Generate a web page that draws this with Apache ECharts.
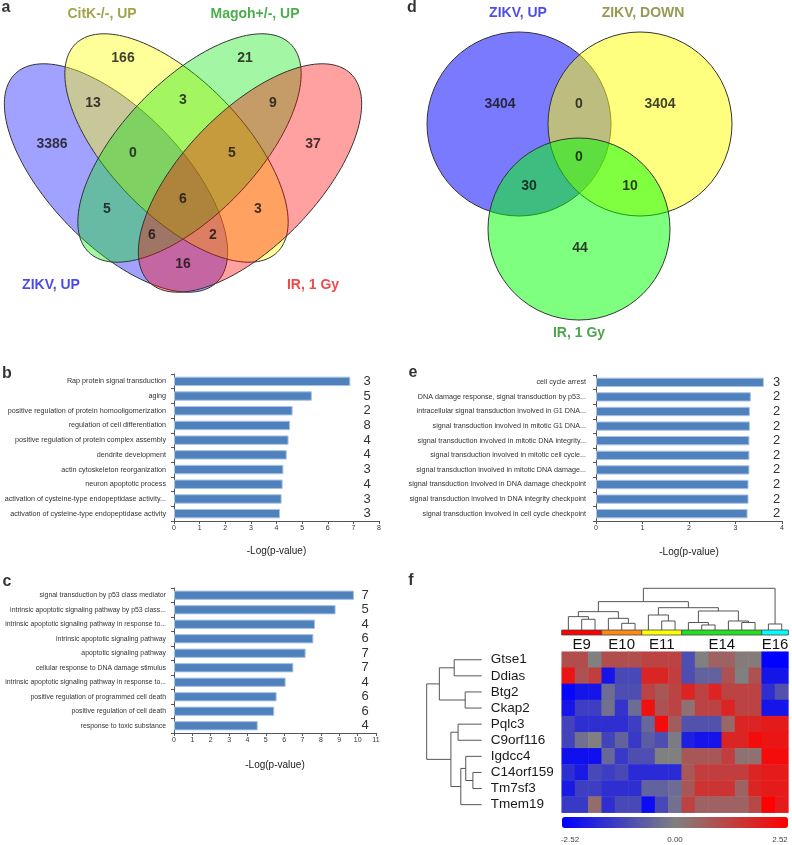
<!DOCTYPE html>
<html><head><meta charset="utf-8">
<script src="https://cdn.jsdelivr.net/npm/echarts@6/dist/echarts.min.js"></script>
<style>html,body{margin:0;padding:0;background:#fff}#c{width:792px;height:845px}</style>
</head><body><div id="c"></div><script>
// ---------------- DATA ----------------
const vennASets = ['ZIKV, UP', 'CitK-/-, UP', 'Magoh+/-, UP', 'IR, 1 Gy'];
const vennARegions = ['A', 'B', 'C', 'D', 'AB', 'BC', 'CD', 'ABC', 'BCD', 'ABCD', 'AC', 'BD', 'ACD', 'ABD', 'AD'];
const vennACounts = [3386, 166, 21, 37, 13, 3, 9, 0, 5, 6, 5, 3, 6, 2, 16];

const vennDSets = ['ZIKV, UP', 'ZIKV, DOWN', 'IR, 1 Gy'];
const vennDRegions = ['A', 'AB', 'B', 'ABC', 'AC', 'BC', 'C'];
const vennDCounts = [3404, 0, 3404, 0, 30, 10, 44];

const bTerms = ['Rap protein signal transduction', 'aging', 'positive regulation of protein homooligomerization',
  'regulation of cell differentiation', 'positive regulation of protein complex assembly', 'dendrite development',
  'actin cytoskeleton reorganization', 'neuron apoptotic process',
  'activation of cysteine-type endopeptidase activity...', 'activation of cysteine-type endopeptidase activity'];
const bValues = [6.88, 5.38, 4.63, 4.53, 4.47, 4.40, 4.27, 4.24, 4.20, 4.14];
const bCounts = ['3', '5', '2', '8', '4', '4', '3', '4', '3', '3'];

const cTerms = ['signal transduction by p53 class mediator', 'intrinsic apoptotic signaling pathway by p53 class...',
  'intrinsic apoptotic signaling pathway in response to...', 'intrinsic apoptotic signaling pathway',
  'apoptotic signaling pathway', 'cellular response to DNA damage stimulus',
  'intrinsic apoptotic signaling pathway in response to...', 'positive regulation of programmed cell death',
  'positive regulation of cell death', 'response to toxic substance'];
const cValues = [9.80, 8.80, 7.68, 7.59, 7.17, 6.50, 6.08, 5.59, 5.46, 4.56];
const cCounts = ['7', '5', '4', '6', '7', '7', '4', '6', '6', '4'];

const eTerms = ['cell cycle arrest', 'DNA damage response, signal transduction by p53...',
  'intracellular signal transduction involved in G1 DNA...', 'signal transduction involved in mitotic G1 DNA...',
  'signal transduction involved in mitotic DNA integrity...', 'signal transduction involved in mitotic cell cycle...',
  'signal transduction involved in mitotic DNA damage...', 'signal transduction involved in DNA damage checkpoint',
  'signal transduction involved in DNA integrity checkpoint', 'signal transduction involved in cell cycle checkpoint'];
const eValues = [3.61, 3.33, 3.31, 3.31, 3.30, 3.30, 3.30, 3.28, 3.28, 3.26];
const eCounts = ['3', '2', '2', '2', '2', '2', '2', '2', '2', '2'];

const heatGroups = ['E9', 'E10', 'E11', 'E14', 'E16'];
const heatGroupSizes = [3, 3, 3, 6, 2];
const heatRows = ['Gtse1', 'Ddias', 'Btg2', 'Ckap2', 'Pqlc3', 'C9orf116', 'Igdcc4', 'C14orf159', 'Tm7sf3', 'Tmem19'];
const heatValues = [
  [1.0, 1.0, 0.0, 1.0, 1.0, 1.0, 1.2, 1.2, 1.2, -1.0, 0.0, 0.6, 0.6, 0.1, 0.1, -2.5, -2.5],
  [2.1, 0.9, 1.3, -2.1, -1.1, -1.1, 1.8, 1.8, 1.3, -1.0, -0.6, -0.6, 0.9, 0.0, 0.9, -2.1, -2.1],
  [-2.4, -2.1, -2.1, -0.4, -1.0, -1.0, 1.2, 0.8, 1.2, 1.8, 1.2, 1.8, 1.2, 1.2, 1.2, -1.6, -0.9],
  [-2.1, -1.3, -1.3, -0.3, -1.5, -0.4, 2.2, 0.9, 1.2, 0.3, 1.2, 1.2, 1.8, 1.2, 1.2, -2.1, -2.1],
  [-1.2, -1.6, -1.6, -1.6, -1.6, -1.3, -0.5, 2.3, 0.7, -0.9, -0.9, -0.9, 0.5, 1.8, 1.8, 2.0, 2.0],
  [-1.2, -0.3, 0.0, -1.2, -0.6, -1.4, -0.7, -1.0, -0.1, -1.9, -2.1, -2.1, 1.8, 1.8, 2.3, 2.1, 2.1],
  [-2.2, -2.2, -2.2, -0.5, -1.4, -1.0, -1.0, 0.0, 0.0, 0.8, 0.8, 0.8, 1.3, 0.3, 0.3, 2.3, 2.3],
  [-1.6, -2.0, -1.1, -1.3, -1.1, -1.7, -1.7, -1.7, -1.7, 0.8, 1.3, 1.3, 1.3, 1.3, 1.8, 2.0, 2.0],
  [-2.0, -1.3, -1.3, -1.6, -1.6, -1.6, -0.6, -0.6, -0.4, 0.8, 1.5, 1.5, 1.5, 0.6, 1.8, 2.0, 2.0],
  [-1.4, -1.4, 0.4, -1.6, -1.1, -1.1, -2.3, -1.1, -0.3, 1.2, 0.6, 0.6, 0.6, 0.6, 1.1, 2.5, 2.0]
];
const heatMin = -2.52, heatMax = 2.52;
// hierarchical merges: [childA, childB, height]; new node ids continue after leaves
const rowMerges = [[0, 1, 0.50], [2, 3, 0.30], [10, 11, 0.77], [4, 5, 0.43], [7, 8, 0.16], [6, 14, 0.29],
  [15, 9, 0.38], [13, 16, 0.56], [12, 17, 1.0]];
const colMerges = [[1, 2, 0.257], [0, 17, 0.32], [4, 5, 0.16], [3, 19, 0.28], [18, 20, 0.44], [7, 8, 0.216],
  [6, 22, 0.36], [10, 11, 0.12], [9, 24, 0.18], [13, 14, 0.18], [12, 26, 0.216], [25, 27, 0.456],
  [23, 28, 0.535], [21, 29, 0.68], [15, 16, 0.144], [30, 31, 1.0]];

// ---------------- LAYOUT (positions & styles) ----------------
const FONT = 'Liberation Sans, Arial, Helvetica, sans-serif';
const vennAShapes = [[116, 178, 145, 67, 46], [176.5, 148, 145, 67, 46], [189.5, 148, 145, 67, -46], [250, 178, 145, 67, -46]];
const vennAFill = ['rgba(0,0,255,0.37)', 'rgba(255,255,0,0.40)', 'rgba(0,230,0,0.36)', 'rgba(255,0,0,0.37)'];
const vennALabelPos = [[52, 144], [123, 58], [245, 58], [313, 144], [93, 103], [183, 100], [273, 103], [133, 153],
  [232, 153], [183, 199], [107, 209], [258, 209], [152, 235], [213, 235], [183, 264]];
const vennASetPos = [[51, 285], [102, 14], [255, 14], [313, 285]];
const vennASetColor = ['#1a1ae6', '#8c8c1e', '#1e9a1e', '#ee1c1c'];

const vennDShapes = [[519, 124, 92], [640, 124, 92], [579, 229, 91]];
const vennDFill = ['rgba(0,0,255,0.52)', 'rgba(255,255,0,0.5)', 'rgba(0,255,0,0.5)'];
const vennDLabelPos = [[500, 104], [579, 104], [660, 104], [579, 157], [529, 186], [630, 186], [580, 248]];
const vennDSetPos = [[518, 13], [643, 13], [579, 333]];
const vennDSetColor = ['#1f1fe0', '#80802a', '#1f8f1f'];
const groupColors = ['#ff0000', '#ff8a10', '#ffff00', '#22e022', '#00ffff'];

// ---------------- derived ----------------
function treeSegments(merges, nLeaves) {
  const pos = [], h = [];
  for (let i = 0; i < nLeaves; i++) { pos.push(i); h.push(0); }
  const segs = [];
  merges.forEach(m => {
    const [a, b, ht] = m;
    segs.push([pos[a], h[a], pos[b], h[b], ht]);
    pos.push((pos[a] + pos[b]) / 2); h.push(ht);
  });
  return segs;
}
const nCols = heatValues[0].length;
const heatCols = [];
heatGroups.forEach((g, gi) => { for (let k = 0; k < heatGroupSizes[gi]; k++) heatCols.push(g + '_' + (k + 1)); });
const heatData = [];
heatValues.forEach((row, r) => row.forEach((v, c) => heatData.push([c, r, v])));
const groupSpans = [];
let acc = 0;
heatGroupSizes.forEach((s, gi) => { groupSpans.push([acc, acc + s - 1, gi]); acc += s; });

const chart = echarts.init(document.getElementById('c'), null, { renderer: 'canvas' });

function ellipseItem(fills) {
  return function (params, api) {
    const cx = api.value(0), cy = api.value(1), a = api.value(2), b = api.value(3);
    const ang = api.value(4) * Math.PI / 180;
    const pts = [];
    for (let k = 0; k < 160; k++) {
      const t = k / 160 * 2 * Math.PI;
      const dx = a * Math.cos(t) * Math.cos(ang) - b * Math.sin(t) * Math.sin(ang);
      const dy = a * Math.cos(t) * Math.sin(ang) + b * Math.sin(t) * Math.cos(ang);
      pts.push(api.coord([cx + dx, cy + dy]));
    }
    return { type: 'polygon', shape: { points: pts }, style: { fill: fills[params.dataIndex], stroke: '#333', lineWidth: 1 } };
  };
}
function circleItem(params, api) {
  const c = api.coord([api.value(0), api.value(1)]);
  const r = api.size([api.value(2), 0])[0];
  return { type: 'circle', shape: { cx: c[0], cy: c[1], r: r }, style: { fill: vennDFill[params.dataIndex], stroke: '#333', lineWidth: 1 } };
}

function catAxis(grid, data, margin, fs) {
  return { type: 'category', gridIndex: grid, data: data, inverse: true,
    axisLine: { show: true, lineStyle: { color: '#555', width: 1 } },
    axisTick: { show: true, length: 3, lineStyle: { color: '#555' } },
    axisLabel: { interval: 0, fontSize: fs || 7.2, color: '#333', margin: margin, fontFamily: FONT } };
}
function countAxis(grid, data, offset) {
  return { type: 'category', gridIndex: grid, data: data, inverse: true, position: 'right', offset: offset,
    axisLine: { show: false }, axisTick: { show: false },
    axisLabel: { interval: 0, fontSize: 13, color: '#333', margin: 0, align: 'left', fontFamily: FONT } };
}
function valAxis(grid, max) {
  return { type: 'value', gridIndex: grid, min: 0, max: max, interval: 1,
    name: '-Log(p-value)', nameLocation: 'middle', nameGap: 25,
    nameTextStyle: { fontSize: 10, color: '#222', fontFamily: FONT },
    axisLine: { show: true, lineStyle: { color: '#555', width: 1 } },
    axisTick: { show: true, length: 3, lineStyle: { color: '#555' } },
    splitLine: { show: false },
    axisLabel: { fontSize: 7, color: '#333', margin: 4, fontFamily: FONT } };
}
const hiddenVal = (grid, min, max, inverse) => ({ type: 'value', gridIndex: grid, min: min, max: max, inverse: !!inverse, show: false });

function setLabelSeries(names, pos, colors) {
  return { type: 'scatter', xAxisIndex: 0, yAxisIndex: 0, symbolSize: 0, silent: true, z: 5,
    data: names.map((n, i) => ({ value: [pos[i][0], pos[i][1]], name: n,
      label: { show: true, formatter: n, color: colors[i], fontSize: 14, fontWeight: 'bold', fontFamily: FONT,
        position: 'inside', align: 'center', verticalAlign: 'middle' } })) };
}
function countLabelSeries(counts, pos) {
  return { type: 'scatter', xAxisIndex: 0, yAxisIndex: 0, symbolSize: 0, silent: true, z: 5,
    data: counts.map((v, i) => [pos[i][0], pos[i][1], v]),
    label: { show: true, formatter: p => String(p.value[2]), color: '#111', fontSize: 14, fontWeight: 'bold',
      fontFamily: FONT, position: 'inside', align: 'center', verticalAlign: 'middle' } };
}

const barStyle = { color: '#4f81bd', borderColor: '#a9c3e6', borderWidth: 1 };
const letters = [['a', 6, 8], ['b', 7, 374], ['c', 7, 582], ['d', 412, 8], ['e', 413, 373], ['f', 411, 581]];
const G = (o) => Object.assign({ outerBoundsMode: 'none', containLabel: false }, o);

const option = {
  animation: false,
  textStyle: { fontFamily: FONT },
  grid: [
    G({ left: 0, top: 0, width: 792, height: 845 }),
    G({ left: 174, top: 374, width: 205, height: 147 }),
    G({ left: 174, top: 588, width: 202, height: 145 }),
    G({ left: 596, top: 375, width: 186, height: 146 }),
    G({ left: 561.7, top: 651.7, width: 226.7, height: 161 }),
    G({ left: 561.7, top: 588.3, width: 226.7, height: 41.7 }),
    G({ left: 426.7, top: 651.7, width: 55, height: 161 }),
    G({ left: 570, top: 829, width: 210, height: 1 })
  ],
  xAxis: [
    hiddenVal(0, 0, 792),
    valAxis(1, 8),
    Object.assign(valAxis(2, 11), { nameGap: 27 }),
    Object.assign(valAxis(3, 4), { nameGap: 26 }),
    { type: 'category', gridIndex: 4, data: heatCols, show: false },
    hiddenVal(5, -0.5, nCols - 0.5),
    hiddenVal(6, 0, 1, true),
    { type: 'value', gridIndex: 7, min: heatMin, max: heatMax, interval: heatMax,
      axisLine: { show: false }, axisTick: { show: false }, splitLine: { show: false },
      axisLabel: { fontSize: 8, color: '#444', margin: 6, formatter: v => v.toFixed(2), fontFamily: FONT } }
  ],
  yAxis: [
    hiddenVal(0, 0, 845, true),
    catAxis(1, bTerms, 8),
    countAxis(1, bCounts, -15.6),
    catAxis(2, cTerms, 8, 6.9),
    countAxis(2, cCounts, -14.6),
    catAxis(3, eTerms, 10),
    countAxis(3, eCounts, -9),
    { type: 'category', gridIndex: 4, data: heatRows, inverse: true,
      axisLine: { show: false }, axisTick: { show: false },
      axisLabel: { interval: 0, fontSize: 13.5, color: '#1a1a1a', margin: 71, align: 'left', fontFamily: FONT } },
    hiddenVal(5, 0, 1),
    hiddenVal(6, -0.5, heatRows.length - 0.5, true),
    { type: 'value', gridIndex: 7, show: false }
  ],
  visualMap: {
    type: 'continuous', min: heatMin, max: heatMax, seriesIndex: 11, orient: 'horizontal',
    left: 562, top: 817, itemWidth: 11, itemHeight: 226, padding: 0, calculable: false,
    inRange: { color: ['#0000ff', '#808080', '#ff0000'] }, text: null
  },
  series: [
    { type: 'custom', xAxisIndex: 0, yAxisIndex: 0, silent: true, renderItem: ellipseItem(vennAFill), data: vennAShapes, z: 1 },
    countLabelSeries(vennACounts, vennALabelPos),
    setLabelSeries(vennASets, vennASetPos, vennASetColor),
    { type: 'custom', xAxisIndex: 0, yAxisIndex: 0, silent: true, renderItem: circleItem, data: vennDShapes, z: 1 },
    countLabelSeries(vennDCounts, vennDLabelPos),
    setLabelSeries(vennDSets, vennDSetPos, vennDSetColor),
    { type: 'scatter', xAxisIndex: 0, yAxisIndex: 0, symbolSize: 0, silent: true,
      data: letters.map(l => ({ value: [l[1], l[2]], label: { show: true, formatter: l[0] } })),
      label: { show: true, fontSize: 16, fontWeight: 'bold', color: '#000', position: 'inside', align: 'center', verticalAlign: 'middle', fontFamily: FONT } },
    { type: 'bar', xAxisIndex: 1, yAxisIndex: 1, data: bValues, barWidth: '64%', itemStyle: barStyle, silent: true },
    { type: 'bar', xAxisIndex: 2, yAxisIndex: 3, data: cValues, barWidth: '64%', itemStyle: barStyle, silent: true },
    { type: 'bar', xAxisIndex: 3, yAxisIndex: 5, data: eValues, barWidth: '64%', itemStyle: barStyle, silent: true },
    { type: 'custom', xAxisIndex: 5, yAxisIndex: 8, silent: true, data: treeSegments(colMerges, nCols),
      renderItem: (params, api) => {
        const p1 = api.coord([api.value(0), api.value(1)]), p2 = api.coord([api.value(0), api.value(4)]);
        const p3 = api.coord([api.value(2), api.value(4)]), p4 = api.coord([api.value(2), api.value(3)]);
        return { type: 'polyline', shape: { points: [p1, p2, p3, p4] }, style: { stroke: '#555', lineWidth: 1, fill: null } };
      } },
    { type: 'heatmap', xAxisIndex: 4, yAxisIndex: 7, data: heatData, silent: true, itemStyle: { borderWidth: 0 } },
    { type: 'custom', xAxisIndex: 6, yAxisIndex: 9, silent: true, data: treeSegments(rowMerges, heatRows.length),
      renderItem: (params, api) => {
        const p1 = api.coord([api.value(1), api.value(0)]), p2 = api.coord([api.value(4), api.value(0)]);
        const p3 = api.coord([api.value(4), api.value(2)]), p4 = api.coord([api.value(3), api.value(2)]);
        return { type: 'polyline', shape: { points: [p1, p2, p3, p4] }, style: { stroke: '#555', lineWidth: 1, fill: null } };
      } },
    { type: 'custom', xAxisIndex: 5, yAxisIndex: 8, silent: true, data: groupSpans, clip: false,
      renderItem: (params, api) => {
        const gi = api.value(2);
        const a = api.coord([api.value(0) - 0.5, 0]), b = api.coord([api.value(1) + 0.5, 0]);
        return { type: 'group', children: [
          { type: 'rect', shape: { x: a[0], y: a[1], width: b[0] - a[0], height: 5 },
            style: { fill: groupColors[gi], stroke: '#444', lineWidth: 0.8 } },
          { type: 'text', style: { text: heatGroups[gi], x: (a[0] + b[0]) / 2, y: a[1] + 15, fontSize: 15,
            fontFamily: FONT, fill: '#111', align: 'center', verticalAlign: 'middle' } }
        ] };
      } }
  ]
};
chart.setOption(option);
</script></body></html>
